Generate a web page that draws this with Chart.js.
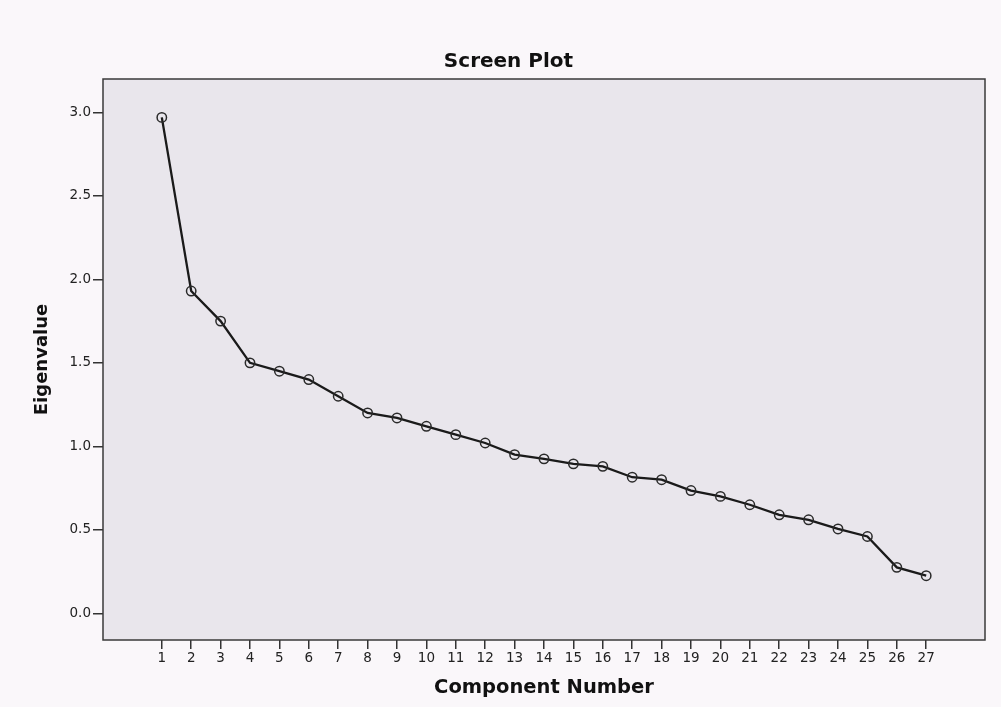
<!DOCTYPE html>
<html>
<head>
<meta charset="utf-8">
<script src="https://cdn.jsdelivr.net/npm/chart.js@4/dist/chart.umd.min.js"></script>
<style>
  html, body { margin: 0; padding: 0; background: #faf7fa; }
  #wrap { width: 1001px; height: 707px; }
</style>
</head>
<body>
<div id="wrap"><canvas id="scree" width="1001" height="707"></canvas></div>
<script>
// スクリープロットの値
const components = [1, 2, 3, 4, 5, 6, 7, 8, 9, 10, 11, 12, 13, 14, 15, 16, 17, 18, 19, 20, 21, 22, 23, 24, 25, 26, 27];
const eigenvalues = [2.97, 1.93, 1.75, 1.50, 1.45, 1.40, 1.30, 1.20, 1.17, 1.12, 1.07, 1.02, 0.95, 0.925, 0.895, 0.88,
  0.815, 0.80, 0.735, 0.70, 0.65, 0.59, 0.56, 0.505, 0.46, 0.275, 0.225];
const yTicks = [0.0, 0.5, 1.0, 1.5, 2.0, 2.5, 3.0];

const points = components.map((c, i) => ({ x: c, y: eigenvalues[i] }));

// プロット領域の背景と枠
const plotFrame = {
  id: 'plotFrame',
  beforeDraw(chart) {
    const { ctx, chartArea: a } = chart;
    ctx.save();
    ctx.fillStyle = '#e9e6ec';
    ctx.fillRect(a.left, a.top, a.right - a.left, a.bottom - a.top);
    ctx.restore();
  },
  afterDraw(chart) {
    const { ctx, chartArea: a } = chart;
    ctx.save();
    ctx.strokeStyle = '#3a3a3a';
    ctx.lineWidth = 1.5;
    ctx.strokeRect(a.left, a.top, a.right - a.left, a.bottom - a.top);
    ctx.restore();
  }
};

const tickFont = { family: 'DejaVu Sans', size: 13.5 };
const boldFont = size => ({ family: 'DejaVu Sans', size: size, weight: 'bold' });

new Chart(document.getElementById('scree'), {
  type: 'line',
  data: {
    datasets: [{
      label: 'Eigenvalue',
      data: points,
      borderColor: '#1a1a1a',
      borderWidth: 2.3,
      pointRadius: 4.7,
      pointBorderWidth: 1.5,
      pointBorderColor: '#2a2a2a',
      pointBackgroundColor: 'rgba(0,0,0,0)',
      fill: false,
      tension: 0
    }]
  },
  options: {
    responsive: false,
    animation: false,
    layout: { padding: { left: 32, right: 16, top: 0, bottom: 0 } },
    plugins: {
      legend: { display: false },
      tooltip: { enabled: false },
      title: {
        display: true,
        text: 'Screen Plot',
        color: '#111',
        font: boldFont(20),
        padding: { top: 50, bottom: 5 }
      }
    },
    scales: {
      x: {
        type: 'linear',
        min: -1,
        max: 29,
        afterBuildTicks: s => { s.ticks = components.map(v => ({ value: v })); },
        afterFit: s => { s.height = 67; },
        grid: { drawOnChartArea: false, drawTicks: true, tickLength: 9, color: '#333', lineWidth: 1.5 },
        border: { display: false },
        ticks: {
          autoSkip: false,
          maxRotation: 0,
          padding: 1,
          color: '#222',
          font: tickFont,
          callback: v => String(v)
        },
        title: {
          display: true,
          text: 'Component Number',
          color: '#111',
          font: boldFont(19.5),
          padding: { top: 0, bottom: 7.3 }
        }
      },
      y: {
        min: -0.16,
        max: 3.2,
        afterBuildTicks: s => { s.ticks = yTicks.map(v => ({ value: v })); },
        afterFit: s => { s.width = 71; },
        grid: { drawOnChartArea: false, drawTicks: true, tickLength: 10, color: '#333', lineWidth: 1.5 },
        border: { display: false },
        ticks: {
          padding: 2,
          color: '#222',
          font: tickFont,
          callback: v => Number(v).toFixed(1)
        },
        title: {
          display: true,
          text: 'Eigenvalue',
          color: '#111',
          font: boldFont(18),
          padding: { top: 0, bottom: 0 }
        }
      }
    }
  },
  plugins: [plotFrame]
});
</script>
</body>
</html>
